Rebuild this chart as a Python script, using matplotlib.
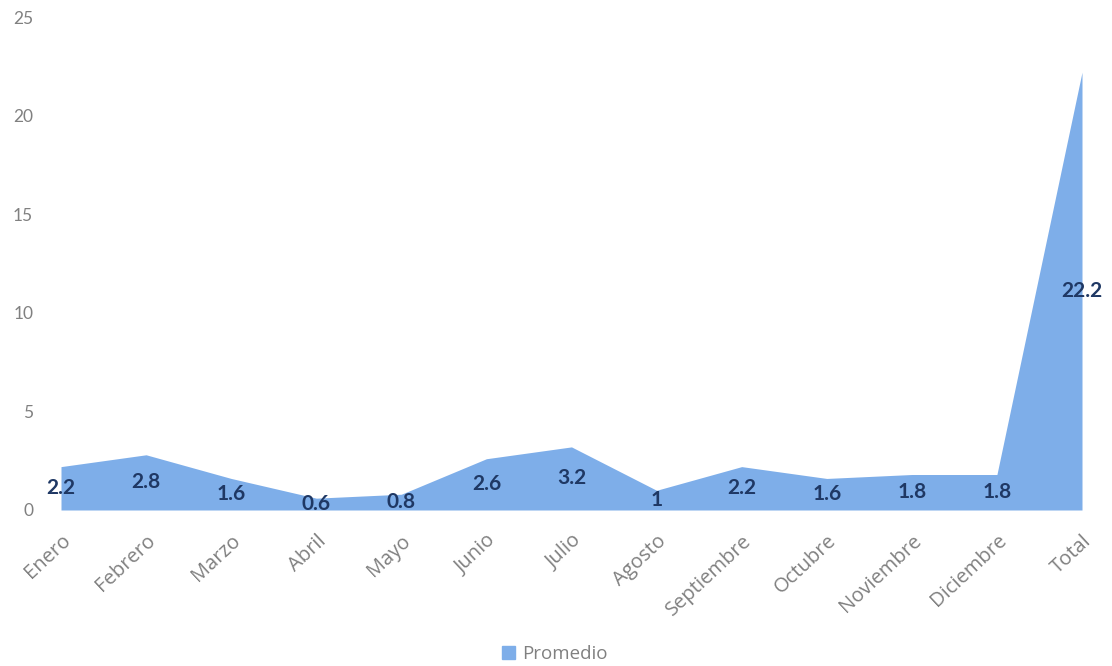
import numpy as np
import matplotlib.pyplot as plt
from matplotlib.patches import Patch

# Datos del grafico
meses = ['Enero', 'Febrero', 'Marzo', 'Abril', 'Mayo', 'Junio', 'Julio',
         'Agosto', 'Septiembre', 'Octubre', 'Noviembre', 'Diciembre', 'Total']
promedio = [2.2, 2.8, 1.6, 0.6, 0.8, 2.6, 3.2, 1, 2.2, 1.6, 1.8, 1.8, 22.2]
etiquetas = ['2.2', '2.8', '1.6', '0.6', '0.8', '2.6', '3.2', '1', '2.2', '1.6', '1.8', '1.8', '22.2']
y_ticks = [0, 5, 10, 15, 20, 25]

color_area = '#7eaee9'
color_texto = '#1f3864'
color_ejes = '#808080'

plt.rcParams['font.family'] = ['Lato', 'DejaVu Sans']

fig = plt.figure(figsize=(11.12, 6.66), dpi=100)
ax = fig.add_axes([61 / 1112, 156 / 666, (1082 - 61) / 1112, (510 - 17) / 666])

x = np.arange(len(meses))
ax.fill_between(x, 0, promedio, color=color_area, linewidth=0)

# Etiquetas de datos centradas en el area
for xi, val, txt in zip(x, promedio, etiquetas):
    ax.text(xi, val / 2, txt, ha='center', va='center', fontsize=15,
            fontweight='bold', color=color_texto)

ax.set_xlim(0, len(meses) - 1)
ax.set_ylim(0, 25)
ax.set_yticks(y_ticks)
ax.set_yticklabels([str(v) for v in y_ticks], fontsize=12.5, color=color_ejes)
ax.set_xticks(x)
ax.set_xticklabels(meses, rotation=43, ha='right', rotation_mode='anchor',
                   fontsize=14.5, color=color_ejes, family='Open Sans')
ax.tick_params(axis='y', length=0, pad=20)
ax.tick_params(axis='x', length=0, pad=15)
for s in ax.spines.values():
    s.set_visible(False)

leg = fig.legend(handles=[Patch(color=color_area, label='Promedio')],
                 loc='center', bbox_to_anchor=(555 / 1112, 1 - 654 / 666),
                 frameon=False, prop={'family': 'Open Sans', 'size': 13.5},
                 handlelength=0.7, handleheight=0.7, handletextpad=0.4)
for t in leg.get_texts():
    t.set_color(color_ejes)

fig.savefig('out.png', dpi=100)
